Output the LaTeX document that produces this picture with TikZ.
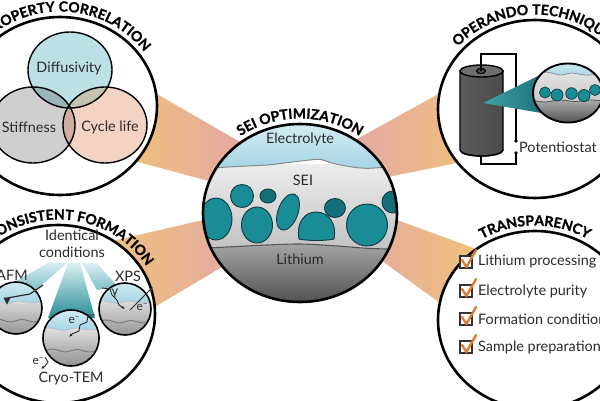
\documentclass[tikz,border=0pt]{standalone}
\usepackage{fontspec}
\setmainfont{Lato}
\newfontfamily\ttlfam{Lato}[BoldFeatures={FakeBold=1.2}]
\newfontfamily\grk{DejaVu Sans}
\usetikzlibrary{decorations.text,calc,arrows.meta}
\definecolor{beamO}{HTML}{F0C27A}
\definecolor{beamP}{HTML}{E3A8A4}
\definecolor{tealB}{HTML}{1A8C95}
\definecolor{tealD}{HTML}{13707A}
\definecolor{blobLine}{HTML}{0E3A40}
\definecolor{elecT}{HTML}{D7EEF4}
\definecolor{elecB}{HTML}{A6D4E4}
\definecolor{seiT}{HTML}{EDEDED}
\definecolor{seiB}{HTML}{C2C2C2}
\definecolor{liT}{HTML}{A9A9A9}
\definecolor{liB}{HTML}{4E4E4E}
\definecolor{elecLine}{HTML}{8A8A8A}
\definecolor{liLine}{HTML}{555555}
\definecolor{txt}{HTML}{2B2B2B}
\definecolor{chk}{HTML}{E0782F}
\definecolor{boxc}{HTML}{333333}
\definecolor{vD}{HTML}{BDE0E6}
\definecolor{vS}{HTML}{CFCFCF}
\definecolor{vC}{HTML}{F3D3C3}
\definecolor{vDS}{HTML}{98B5B9}
\definecolor{vDC}{HTML}{C4C3B0}
\definecolor{vSC}{HTML}{D2AE9E}
\definecolor{vDSC}{HTML}{B39C8C}
\definecolor{cylBody}{HTML}{4B4B4B}
\definecolor{cylBodyL}{HTML}{5C5C5C}
\definecolor{cylTop}{HTML}{6E6E6E}
\definecolor{rayL}{HTML}{3FA2A9}
\definecolor{rayD}{HTML}{1C6E76}
\definecolor{fanT}{HTML}{DCEFF3}
\definecolor{fanM}{HTML}{7DBFC7}
\definecolor{fanD}{HTML}{268C94}
\definecolor{smGT}{HTML}{E4E4E4}
\definecolor{smGB}{HTML}{8C8C8C}
\newcommand\ttlfont{\ttlfam\bfseries\fontsize{14}{14}\selectfont}
\tikzset{
  outer/.style={draw=black, line width=2.6, fill=white},
  lbl/.style={text=txt, font=\fontsize{14.4}{14.4}\selectfont, inner sep=0pt},
  slbl/.style={text=txt, font=\fontsize{12}{12}\selectfont, inner sep=0pt},
  blob/.style={fill=tealB, draw=blobLine, line width=0.9},
  blobd/.style={fill=tealD, draw=blobLine, line width=0.9},
  vline/.style={draw=black, line width=1.4},
  wire/.style={draw=black, line width=1.2},
  chkbox/.style={draw=boxc, line width=1.3, fill=white},
  chkmark/.style={draw=chk, line width=2.3, line cap=round, line join=round},
  ray/.style={draw=txt, line width=0.9, -{Latex[length=3.5pt,width=3pt]}},
  title/.style={decorate, decoration={text along path, text align=center, text={|\ttlfont|#1}}}
}
\newcommand\sampcirc[4]{%
  \begin{scope}[shift={(#1,#2)}]
    \begin{scope}
      \clip (0,0) circle (#3);
      \shade[top color=smGT, bottom color=smGB] (-30,-30) rectangle (30,12);
      \shade[top color=elecT, bottom color=elecB] (-30,30) -- (-30,#4) -- plot[smooth] coordinates {(-20,#4+1) (-8,#4-1.5) (4,#4+1) (16,#4-1) (30,#4+0.5)} -- (30,30) -- cycle;
      \draw[draw=elecLine!60, line width=0.5] plot[smooth] coordinates {(-30,#4) (-20,#4+1) (-8,#4-1.5) (4,#4+1) (16,#4-1) (30,#4+0.5)};
      \draw[draw=liLine!80, line width=0.9] plot[smooth] coordinates {(-30,-13) (-18,-11) (-6,-14) (6,-11.5) (18,-14) (30,-12)};
    \end{scope}
    \draw[vline, line width=1.6] (0,0) circle (#3);
  \end{scope}}
\begin{document}
\begin{tikzpicture}[x=1pt,y=1pt]
\useasboundingbox (0,0) rectangle (600,400);
\coordinate (cTL) at (60,294);
\coordinate (cTR) at (535,291);
\coordinate (cC) at (300,187);
\coordinate (cBL) at (58,86);
\coordinate (cBR) at (535,80);
% beams
\shade[left color=beamO, right color=beamP] (120,327.2) -- (245,255.2) -- (245,209.2) -- (120,242.9) -- cycle;
\shade[left color=beamO, right color=beamP] (105,157.3) -- (245,189.7) -- (245,146.6) -- (105,63.6) -- cycle;
\shade[left color=beamP, right color=beamO] (350,257.2) -- (480,329) -- (480,241.7) -- (350,215.3) -- cycle;
\shade[left color=beamP, right color=beamO] (350,197.2) -- (480,149.7) -- (480,68) -- (350,162.3) -- cycle;
% outer circles
\foreach \c in {cTL,cTR,cBL,cBR} \draw[outer] (\c) ellipse [x radius=97, y radius=89];
% ---------- central circle ----------
\begin{scope}
  \clip (cC) ellipse [x radius=97, y radius=89];
  \shade[top color=liT, bottom color=liB] (200,95) rectangle (400,160);
  \shade[top color=seiT, bottom color=seiB] (200,151.7) -- plot[smooth] coordinates {(203,151.7) (233,153.3) (267,155) (300,156) (333,154.3) (367,151.7) (397,150.7)} -- (400,150.7) -- (400,236) -- (200,236) -- cycle;
  \shade[top color=elecT, bottom color=elecB] (200,280) -- (200,231.7) -- plot[smooth] coordinates {(207,231.7) (233,233.3) (267,235) (287,237.3) (310,240) (320,240.7) (333,236.7) (350,233.3) (367,231.7) (393,233.3)} -- (400,233.3) -- (400,280) -- cycle;
  \draw[draw=elecLine, line width=1] plot[smooth] coordinates {(200,231.5) (207,231.7) (233,233.3) (267,235) (287,237.3) (310,240) (320,240.7) (333,236.7) (350,233.3) (367,231.7) (393,233.3) (400,233.3)};
  \draw[draw=liLine, line width=1.1] plot[smooth] coordinates {(200,151.5) (203,151.7) (233,153.3) (267,155) (300,156) (333,154.3) (367,151.7) (397,150.7) (400,150.7)};
  \draw[blob] (216,181) ellipse [x radius=16, y radius=21];
  \draw[blob] (242,204) ellipse [x radius=11.5, y radius=11.5];
  \draw[blobd] (268,204) ellipse [x radius=8, y radius=7];
  \draw[blob] (257,175) ellipse [x radius=15.5, y radius=18];
  \draw[blob, rotate around={-20:(288,188)}] (288,188) ellipse [x radius=10, y radius=19];
  \draw[blob] (299,161) .. controls (296,178) and (305,188) .. (316,188) .. controls (329,188) and (337,176) .. (334,161) .. controls (325,159) and (308,159) .. (299,161) -- cycle;
  \draw[blobd] (335,192) ellipse [x radius=10.5, y radius=9.5];
  \draw[blob] (367,175) ellipse [x radius=20.5, y radius=21];
  \draw[blobd] (393,198) ellipse [x radius=11, y radius=11];
\end{scope}
\draw[draw=black, line width=2.6] (cC) ellipse [x radius=97, y radius=89];
\node[lbl] (tElec) at (300,261) {Electrolyte};
\node[lbl] (tSEI) at (303,220) {SEI};
\node[lbl] (tLi) at (300,141) {Lithium};
% ---------- top-left Venn ----------
\coordinate (vd) at (70,330);
\coordinate (vs) at (33,275);
\coordinate (vc) at (105,275);
\fill[vD] (vd) ellipse [x radius=42, y radius=38];
\fill[vS] (vs) ellipse [x radius=42, y radius=38];
\fill[vC] (vc) ellipse [x radius=42, y radius=38];
\begin{scope}\clip (vd) ellipse [x radius=42, y radius=38]; \fill[vDS] (vs) ellipse [x radius=42, y radius=38];\end{scope}
\begin{scope}\clip (vd) ellipse [x radius=42, y radius=38]; \fill[vDC] (vc) ellipse [x radius=42, y radius=38];\end{scope}
\begin{scope}\clip (vs) ellipse [x radius=42, y radius=38]; \fill[vSC] (vc) ellipse [x radius=42, y radius=38];\end{scope}
\begin{scope}\clip (vd) ellipse [x radius=42, y radius=38]; \clip (vs) ellipse [x radius=42, y radius=38]; \fill[vDSC] (vc) ellipse [x radius=42, y radius=38];\end{scope}
\draw[vline] (vd) ellipse [x radius=42, y radius=38];
\draw[vline] (vs) ellipse [x radius=42, y radius=38];
\draw[vline] (vc) ellipse [x radius=42, y radius=38];
\node[lbl] (tDiff) at (69,332) {Diffusivity};
\node[lbl] (tStiff) at (29,273) {Stiffness};
\node[lbl] (tCyc) at (110,273) {Cycle life};
% ---------- top-right operando ----------
\draw[wire] (516,247) -- (516,236) -- (481,236) -- (481,246);
\shade[left color=cylBodyL, right color=cylBody, draw=black, line width=1.4] (460,329) -- (460,250) arc[start angle=180, end angle=360, x radius=21.5, y radius=6] -- (503,329) -- cycle;
\draw[draw=black, line width=1.4] (460,250) arc[start angle=180, end angle=360, x radius=21.5, y radius=6];
\filldraw[fill=cylTop, draw=black, line width=1.4] (481.5,329) ellipse [x radius=21.5, y radius=6];
\filldraw[fill=cylBody, draw=black, line width=1.1] (481,329) ellipse [x radius=4.5, y radius=2.6];
\draw[wire] (481,329) -- (481,346) -- (516,346) -- (516,259);
\fill (516,259) circle (1.9);
\fill (516,247) circle (1.9);
\node[lbl, anchor=west] (tPot) at (519,253) {Potentiostat};
\coordinate (mC) at (568,307);
\shade[left color=rayL, right color=rayD] (483,297) -- (542,326) -- (547,286) -- cycle;
\begin{scope}
  \clip (mC) ellipse [x radius=35, y radius=29.5];
  \shade[top color=seiT, bottom color=seiB] (530,290) rectangle (605,340);
  \shade[top color=liT, bottom color=liB] (530,276) -- (530,300) -- plot[smooth] coordinates {(545,298) (560,300) (575,298.5) (590,300) (605,299)} -- (605,276) -- cycle;
  \draw[draw=liLine, line width=0.8] plot[smooth] coordinates {(530,300) (545,298) (560,300) (575,298.5) (590,300) (605,299)};
  \shade[top color=elecT, bottom color=elecB] (530,340) -- (530,323) -- plot[smooth] coordinates {(545,328) (560,325) (572,327) (585,325) (605,326)} -- (605,340) -- cycle;
  \draw[draw=elecLine, line width=0.7] plot[smooth] coordinates {(530,323) (545,328) (560,325) (572,327) (585,325) (605,326)};
  \draw[blob, line width=0.7] (545,307.5) circle (5.5);
  \draw[blob, line width=0.7] (557,305) circle (6);
  \draw[blob, line width=0.7] (571.5,306.5) circle (5.8);
  \draw[blob, line width=0.7] (584,304.5) circle (6);
  \draw[blob, line width=0.7] (595,310) circle (5.5);
\end{scope}
\draw[draw=black, line width=1.9] (mC) ellipse [x radius=35, y radius=29.5];
% ---------- bottom-left consistent formation ----------
\shade[top color=fanT, bottom color=fanM] (50,138) -- (67,137) -- (36,110) -- (0,110) -- cycle;
\shade[top color=fanT, bottom color=fanD] (68,137) -- (80,137) -- (95,82) -- (48,82) -- cycle;
\shade[top color=fanT, bottom color=fanM] (82,137) -- (97,137) -- (117,114) -- (97,110) -- cycle;
\node[lbl] (tIdent) at (72,165) {Identical};
\node[lbl] (tCond) at (72,148) {conditions};
\sampcirc{16}{92}{26}{6}
\sampcirc{125}{91}{26}{7}
\sampcirc{71}{62}{28}{9}
\node[lbl] (tAFM) at (12,125) {AFM};
\node[lbl] (tXPS) at (128,124) {XPS};
\node[lbl] (tCryo) at (71,21) {Cryo-TEM};
% AFM cantilever
\draw[draw=txt, line width=1.2] (7,102) -- (30,106) -- (43,115);
\fill[txt] (3.5,102.5) -- (10.5,102.5) -- (7,95.5) -- cycle;
% cryo electrons
\node[slbl] (eC1) at (74,80) {e\raisebox{0.55ex}{\fontsize{8}{8}\selectfont –}};
\draw[ray] (95,85) -- (88,85) -- (87,78) -- (80,75) -- (79,69) -- (72,66) -- (69,63);
\node[slbl] (eC2) at (38,39) {e\raisebox{0.55ex}{\fontsize{8}{8}\selectfont –}};
\draw[ray] (45,43) -- (48,38) -- (45,34) -- (41,31);
% XPS
\node[slbl] (gX) at (115,107) {\grk γ};
\draw[ray] (102,112) -- (110,111) -- (112,105) -- (117,100) -- (119,95) -- (125,91);
\draw[ray] (130,90) -- (153,113);
\node[slbl] (eX) at (142,93) {e\raisebox{0.55ex}{\fontsize{8}{8}\selectfont –}};
% ---------- bottom-right transparency ----------
\foreach \yy/\tx [count=\i] in {138/Lithium processing, 109/Electrolyte purity, 81/Formation conditions, 53/Sample preparation}{
  \draw[chkbox] (460,\yy-6) rectangle (472,\yy+6);
  \draw[chkmark] (462,\yy+2) -- (466.5,\yy-5) -- (476,\yy+12);
  \node[lbl, anchor=west] (chk\i) at (478,\yy) {\tx};
}
% ---------- titles ----------
\path[title={PROPERTY CORRELATION}] ($(cTL)+(169:102.5 and 94.5)$) arc[start angle=169, end angle=-1, x radius=102.5, y radius=94.5];
\path[title={OPERANDO TECHNIQUES}] ($(cTR)+(175:102.5 and 94.5)$) arc[start angle=175, end angle=5, x radius=102.5, y radius=94.5];
\path[title={SEI OPTIMIZATION}] ($(cC)+(175:102.5 and 94.5)$) arc[start angle=175, end angle=5, x radius=102.5, y radius=94.5];
\path[title={CONSISTENT FORMATION}] ($(cBL)+(165:102.5 and 94.5)$) arc[start angle=165, end angle=-5, x radius=102.5, y radius=94.5];
\path[title={TRANSPARENCY}] ($(cBR)+(175:102.5 and 94.5)$) arc[start angle=175, end angle=5, x radius=102.5, y radius=94.5];
\end{tikzpicture}
\end{document}
